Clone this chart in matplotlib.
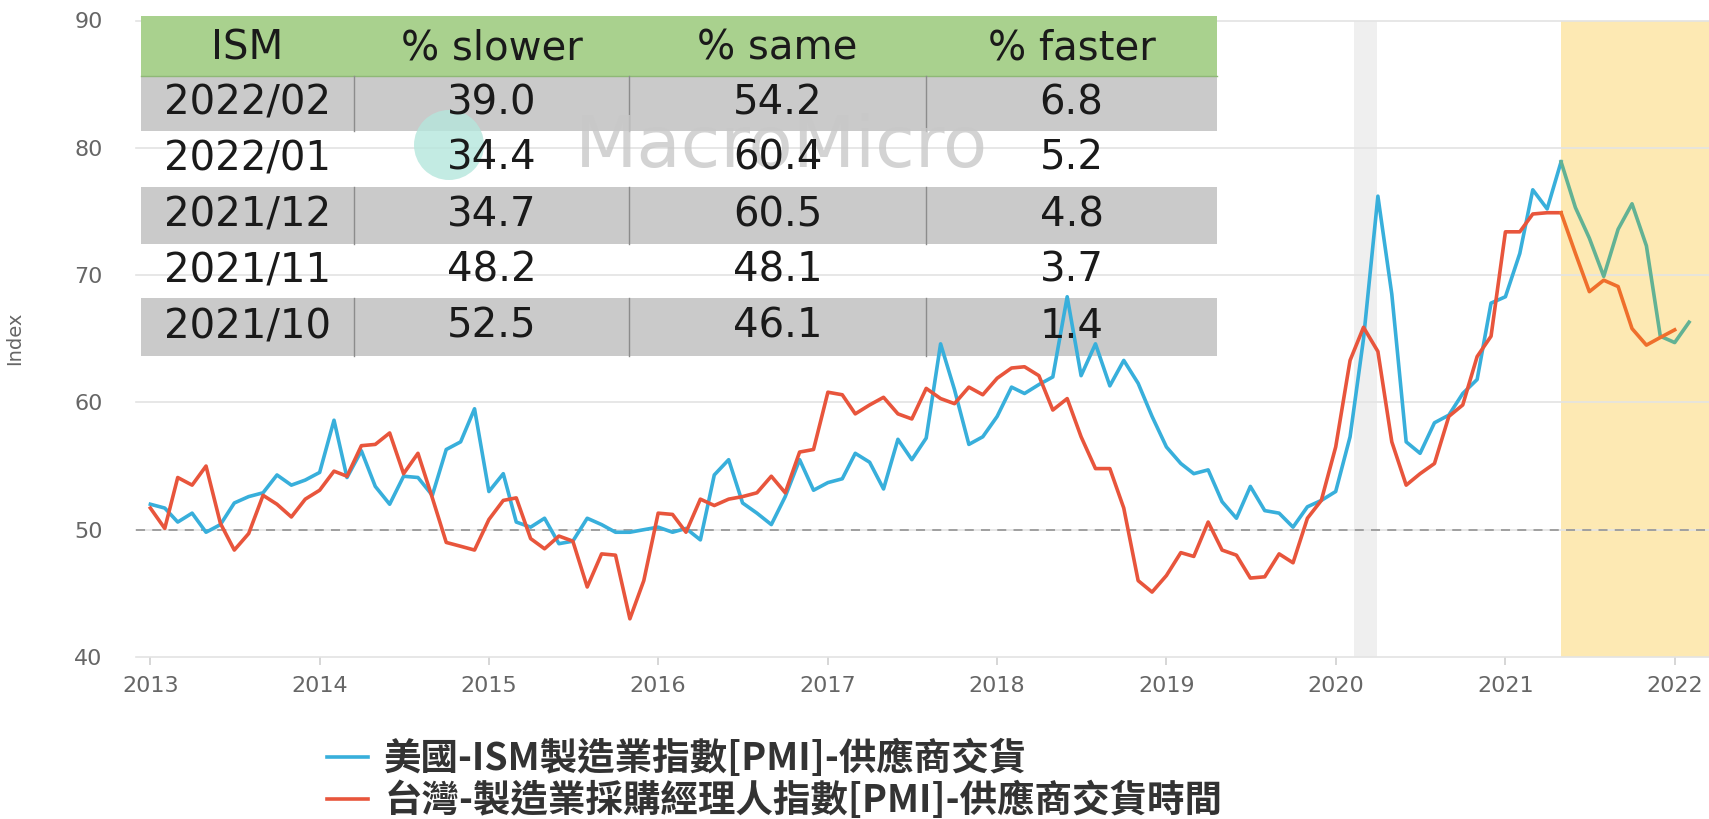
import matplotlib
matplotlib.use('Agg')
import matplotlib.pyplot as plt
import numpy as np
import pandas as pd
from matplotlib.patches import Rectangle, Circle

# monthly series, starting Jan 2013
ism_supplier = [
    52.0, 51.7, 50.6, 51.3, 49.8, 50.4, 52.1, 52.6, 52.9, 54.3, 53.5, 53.9,
    54.5, 58.6, 54.1, 56.2, 53.4, 52.0, 54.2, 54.1, 52.7, 56.3, 56.9, 59.5,
    53.0, 54.4, 50.6, 50.2, 50.9, 48.9, 49.1, 50.9, 50.4, 49.8, 49.8, 50.0,
    50.2, 49.8, 50.1, 49.2, 54.3, 55.5, 52.1, 51.3, 50.4, 52.6, 55.5, 53.1,
    53.7, 54.0, 56.0, 55.3, 53.2, 57.1, 55.5, 57.2, 64.6, 61.0, 56.7, 57.3,
    58.9, 61.2, 60.7, 61.4, 62.0, 68.3, 62.1, 64.6, 61.3, 63.3, 61.5, 58.9,
    56.5, 55.2, 54.4, 54.7, 52.2, 50.9, 53.4, 51.5, 51.3, 50.2, 51.8, 52.3,
    53.0, 57.3, 65.0, 76.2, 68.5, 56.9, 56.0, 58.4, 59.0, 60.7, 61.8, 67.8,
    68.3, 71.7, 76.7, 75.2, 78.9, 75.3, 72.9, 69.9, 73.6, 75.6, 72.3, 65.2,
    64.7, 66.3,
]
tw_supplier = [
    51.7, 50.1, 54.1, 53.5, 55.0, 50.5, 48.4, 49.7, 52.7, 52.0, 51.0, 52.4,
    53.1, 54.6, 54.2, 56.6, 56.7, 57.6, 54.4, 56.0, 52.5, 49.0, 48.7, 48.4,
    50.8, 52.3, 52.5, 49.3, 48.5, 49.5, 49.1, 45.5, 48.1, 48.0, 43.0, 46.0,
    51.3, 51.2, 49.8, 52.4, 51.9, 52.4, 52.6, 52.9, 54.2, 52.9, 56.1, 56.3,
    60.8, 60.6, 59.1, 59.8, 60.4, 59.1, 58.7, 61.1, 60.3, 59.9, 61.2, 60.6,
    61.9, 62.7, 62.8, 62.1, 59.4, 60.3, 57.3, 54.8, 54.8, 51.7, 46.0, 45.1,
    46.4, 48.2, 47.9, 50.6, 48.4, 48.0, 46.2, 46.3, 48.1, 47.4, 50.9, 52.3,
    56.5, 63.3, 65.9, 64.0, 56.9, 53.5, 54.4, 55.2, 58.9, 59.8, 63.6, 65.2,
    73.4, 73.4, 74.8, 74.9, 74.9, 71.7, 68.7, 69.6, 69.1, 65.8, 64.5, 65.1,
    65.7,
]
legend_labels = ['美國-ISM製造業指數[PMI]-供應商交貨',
                 '台灣-製造業採購經理人指數[PMI]-供應商交貨時間']

recession = ('2020-02-10', '2020-03-30')
highlight_start = '2021-05-01'

# the pasted ISM table
table_cols = ['ISM', '% slower', '% same', '% faster']
table_months = ['2022/02', '2022/01', '2021/12', '2021/11', '2021/10']
pct_slower = [39.0, 34.4, 34.7, 48.2, 52.5]
pct_same = [54.2, 60.4, 60.5, 48.1, 46.1]
pct_faster = [6.8, 5.2, 4.8, 3.7, 1.4]

W, H = 1709, 819
fig = plt.figure(figsize=(W / 100, H / 100), dpi=100)
ax = fig.add_axes([136 / W, 1 - 657 / H, 1 - 136 / W, (657 - 20.5) / H])

d_ism = pd.date_range('2013-01-01', periods=len(ism_supplier), freq='MS')
d_tw = pd.date_range('2013-01-01', periods=len(tw_supplier), freq='MS')
ism = np.array(ism_supplier)
tw = np.array(tw_supplier)
cut = pd.Timestamp(highlight_start)
xmax = pd.Timestamp('2022-03-16')

ax.axvspan(pd.Timestamp(recession[0]), pd.Timestamp(recession[1]), color='#efefef', zorder=0.2, lw=0)
ax.axvspan(cut, xmax, color='#fde9b3', zorder=0.2, lw=0)

blue, red = '#38afdb', '#e8553c'
green, orange = '#62b294', '#ef6f2c'
lw = 2.6
pre = d_ism <= cut
h1, = ax.plot(d_ism[pre], ism[pre], color=blue, lw=lw, zorder=3)
ax.plot(d_ism[d_ism >= cut], ism[d_ism >= cut], color=green, lw=lw, zorder=3)
pre = d_tw <= cut
h2, = ax.plot(d_tw[pre], tw[pre], color=red, lw=lw, zorder=3.1)
ax.plot(d_tw[d_tw >= cut], tw[d_tw >= cut], color=orange, lw=lw, zorder=3.1)

ax.axhline(50, color='#9a9a9a', lw=1.3, ls=(0, (5, 4)), zorder=1)

ax.set_xlim(pd.Timestamp('2012-12-01'), xmax)
ax.set_ylim(40, 90)
ax.set_yticks(np.arange(40, 91, 10))
ax.set_xticks(pd.date_range('2013-01-01', '2022-01-01', freq='YS'))
ax.set_xticklabels([str(y) for y in range(2013, 2023)])
ax.grid(axis='y', color='#e3e3e3', lw=1.2)
ax.set_axisbelow(True)
for gl in ax.get_ygridlines():
    gl.set_clip_on(False)
for s in ax.spines.values():
    s.set_visible(False)
ax.tick_params(axis='x', length=6, color='#cfcfcf', width=1.2, pad=8,
               labelsize=16, labelcolor='#666666')
ax.tick_params(axis='y', length=0, pad=24, labelsize=16, labelcolor='#666666')
ax.set_ylabel('Index', fontsize=14, color='#666666')
ax.yaxis.set_label_coords(-0.071, 0.5)

# table, laid out in pixels of the picture
tr = fig.dpi_scale_trans
def P(x, y):
    return x / 100, (H - y) / 100

col_x = [141, 354, 629, 926, 1217]
row_y = [16, 76, 131, 187, 244, 298, 356]
x0, y0 = P(col_x[0], row_y[1])
x1, y1 = P(col_x[-1], row_y[0])
ax.add_patch(Rectangle((x0, y0), x1 - x0, y1 - y0, transform=tr, clip_on=False,
                       facecolor='#a9d18e', edgecolor='none', zorder=2.5))
ax.plot([x0, x1], [y0, y0], transform=tr, clip_on=False, color='#8fb877', lw=1, zorder=2.6)
for r in range(5):
    if r % 2 == 0:
        xa, ya = P(col_x[0], row_y[r + 2])
        xb, yb = P(col_x[-1], row_y[r + 1])
        ax.add_patch(Rectangle((xa, ya), xb - xa, yb - ya, transform=tr, clip_on=False,
                               facecolor='#cacaca', edgecolor='none', zorder=2.5))
        for cx in col_x[1:-1]:
            ax.plot([cx / 100, cx / 100], [ya, yb], transform=tr, clip_on=False,
                    color='#8c8c8c', lw=1, zorder=2.6)

# watermark
ax.add_patch(Circle(P(449, 145), 0.35, transform=tr, clip_on=False,
                    facecolor='#b5e6dc', edgecolor='none', alpha=0.8, zorder=2.7))
ax.text(*P(782, 148), 'MacroMicro', transform=tr, fontsize=52, color='#c8c8c8',
        alpha=0.8, ha='center', va='center', zorder=2.7)

centers = [(col_x[i] + col_x[i + 1]) / 2 for i in range(4)]
tkw = dict(transform=tr, fontsize=29, color='#1a1a1a', ha='center', va='center',
           zorder=4, family='DejaVu Sans')
for i, c in enumerate(table_cols):
    ax.text(*P(centers[i], (row_y[0] + row_y[1]) / 2 + 2), c, **tkw)
for r in range(5):
    yc = (row_y[r + 1] + row_y[r + 2]) / 2
    vals = [table_months[r], f'{pct_slower[r]:.1f}', f'{pct_same[r]:.1f}', f'{pct_faster[r]:.1f}']
    for i, v in enumerate(vals):
        ax.text(*P(centers[i], yc), v, **tkw)

fig.legend([h1, h2], legend_labels, loc='upper left',
           bbox_to_anchor=(327 / W, 1 - 739 / H), frameon=False,
           prop=dict(family=['Noto Sans CJK TC', 'DejaVu Sans'], weight='bold', size=27),
           labelcolor='#333333', handlelength=1.1, handletextpad=0.43,
           labelspacing=0.08, borderaxespad=0, borderpad=0)

fig.savefig('out.png', dpi=100)
